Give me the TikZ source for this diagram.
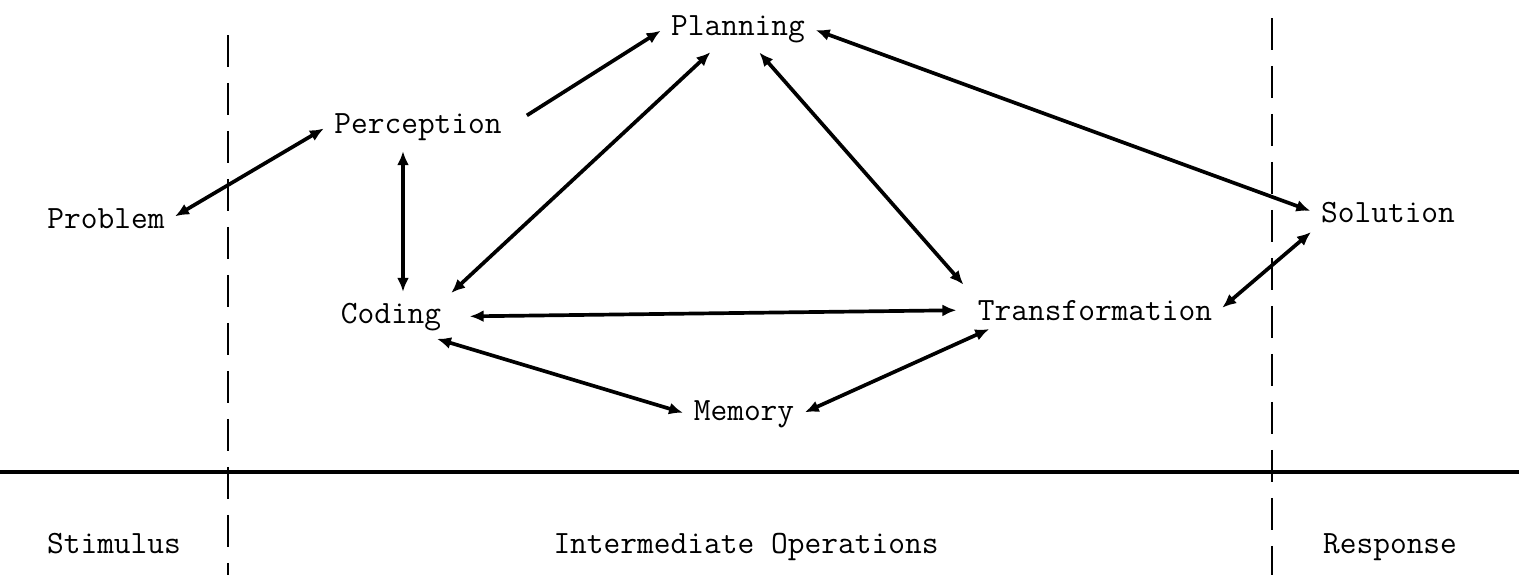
\documentclass[tikz,border=0pt]{standalone}
\usepackage{tikz}
\usetikzlibrary{arrows.meta,calc}
\tikzset{
  op vertex/.style={anchor=base,inner sep=4pt,
    font=\fontsize{18.5}{21}\selectfont\ttfamily},
  op edge/.style={{Latex[length=2.8mm,width=2.4mm]}-{Latex[length=2.8mm,width=2.4mm]},
    line width=2.1pt,shorten <=2pt,shorten >=2pt},
  op one way edge/.style={-{Latex[length=2.8mm,width=2.4mm]},
    line width=2.1pt,shorten >=2pt},
  stage label/.style={anchor=base,inner sep=0pt,
    font=\fontsize{18.5}{21}\selectfont\ttfamily},
  stage divider/.style={line width=1.6pt,dash pattern=on 0.64cm off 0.32cm},
  stage rule/.style={line width=2pt}
}
\begin{document}
\begin{tikzpicture}[x=0.02cm,y=-0.02cm]
    \useasboundingbox (0,0) rectangle (1519,575);
    % stages
    \draw[stage divider] (228,35) -- (228,575);
    \draw[stage divider] (1272,18) -- (1272,575);
    \draw[stage rule] (0,472) -- (1519,472);
    \node[stage label] (stimulus) at (114,553) {Stimulus};
    \node[stage label] (intermediate) at (746,553) {Intermediate Operations};
    \node[stage label] (response) at (1390,553) {Response};
    % operations
    \node[op vertex] (planning) at (738,35) {Planning};
    \node[op vertex] (perception) at (418,133) {Perception};
    \node[op vertex] (problem) at (106,228) {Problem};
    \node[op vertex] (solution) at (1388,222) {Solution};
    \node[op vertex] (coding) at (391,323) {Coding};
    \node[op vertex] (transformation) at (1095,320) {Transformation};
    \node[op vertex] (memory) at (744,420) {Memory};
    \draw[op edge] (problem.east) -- (perception.west);
    \draw[op one way edge,shorten <=12pt] (perception.east) -- (planning.west);
    \draw[op edge] (coding.north east) -- ([xshift=-25*0.02cm]planning.south);
    \draw[op edge,shorten >=6pt] ([xshift=19*0.02cm]planning.south) -- (transformation.north west);
    \draw[op edge] (planning.east) -- (solution.west);
    \draw[op edge] (transformation.east) -- (solution.south west);
    \draw[op edge] ([xshift=-15*0.02cm]perception.south) -- ([xshift=12*0.02cm]coding.north);
    \draw[op edge,shorten <=12pt,shorten >=8pt] (coding.east) -- (transformation.west);
    \draw[op edge] ([xshift=-15*0.02cm]coding.south east) -- (memory.west);
    \draw[op edge] (memory.east) -- ([xshift=22*0.02cm]transformation.south west);
  \end{tikzpicture}
\end{document}
